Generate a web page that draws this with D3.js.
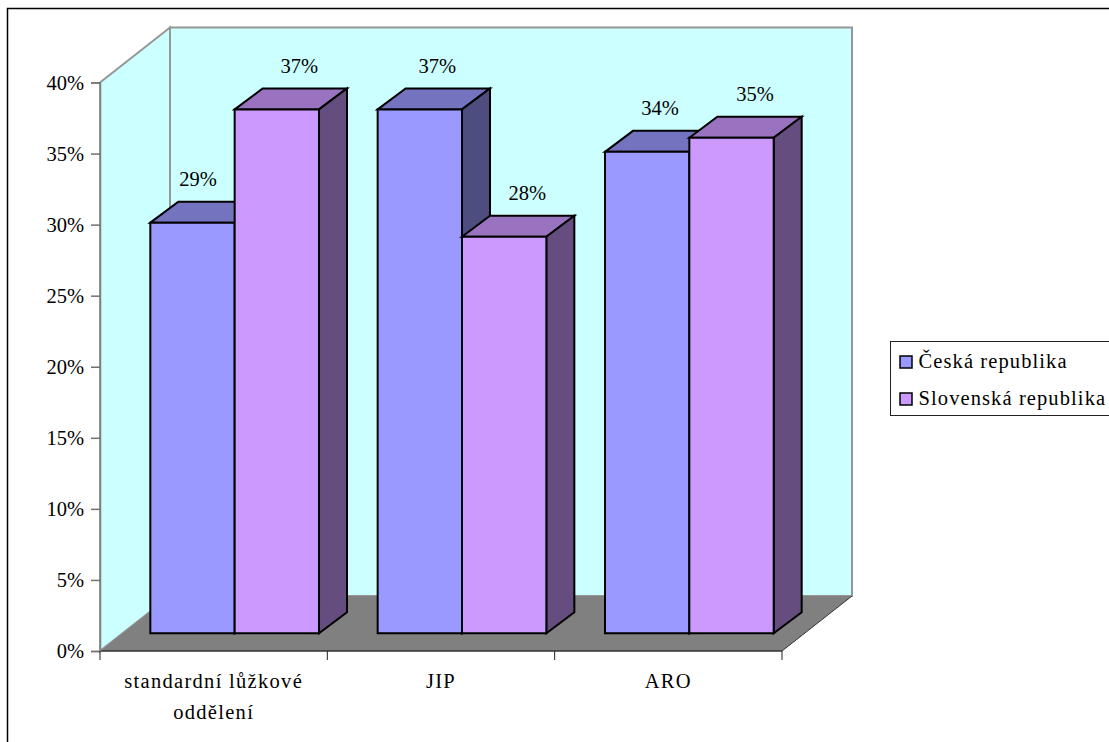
<!DOCTYPE html>
<html><head><meta charset="utf-8">
<script src="https://cdnjs.cloudflare.com/ajax/libs/d3/7.8.5/d3.min.js"></script>
<style>html,body{margin:0;padding:0;background:#fff;overflow:hidden}svg{display:block}text{font-family:"Liberation Serif",serif;fill:#000}</style>
</head><body><svg id="c" width="1109" height="742"></svg>
<script>
const categories=[["standardní lůžkové","oddělení"],["JIP"],["ARO"]];
const seriesNames=["Česká republika","Slovenská republika"];
const cz=[29,37,34];
const sk=[37,28,35];
const yTicks=[0,5,10,15,20,25,30,35,40];
const colors=[{front:"#9999FF",top:"#7373BF",side:"#4D4D80"},{front:"#CC99FF",top:"#9973BF",side:"#664D80"}];
const svg=d3.select("#c");
svg.append("rect").attr("x",7.5).attr("y",8.5).attr("width",1200).attr("height",760).attr("fill","#fff").attr("stroke","#000").attr("stroke-width",1.5);
const y=d3.scaleLinear().domain([0,40]).range([651,82.5]);
const x=d3.scaleBand().domain(d3.range(3)).range([100,782]);
const dx=70,dy=-55;
const line=d3.line();
const poly=(pts,fill,stroke,w)=>svg.append("path").attr("d",line(pts)+"Z").attr("fill",fill).attr("stroke",stroke||"none").attr("stroke-width",w||0).attr("stroke-linejoin","miter");
const y0=y(0),y40=y(40),xa=x.range()[0],xb=x.range()[1];
poly([[xa+dx,y40+dy],[xb+dx,y40+dy],[xb+dx,y0+dy],[xa+dx,y0+dy]],"#CCFFFF","#969696",2);
poly([[xa,y40],[xa+dx,y40+dy],[xa+dx,y0+dy],[xa,y0]],"#CCFFFF","#969696",2);
poly([[xa,y0],[xb,y0],[xb+dx,y0+dy],[xa+dx,y0+dy]],"#808080");
svg.append("line").attr("x1",xa).attr("x2",xb).attr("y1",y0).attr("y2",y0).attr("stroke","#333").attr("stroke-width",1.5);
svg.append("line").attr("x1",xb).attr("x2",xb+dx).attr("y1",y0).attr("y2",y0+dy).attr("stroke","#333").attr("stroke-width",1);
const yAxis=d3.axisLeft(y).tickValues(yTicks).tickSize(9).tickPadding(7).tickFormat(d=>d+"%");
const gy=svg.append("g").attr("transform",`translate(${xa},0)`).call(yAxis);
gy.select(".domain").attr("stroke","#808080").attr("stroke-width",1.5);
gy.selectAll(".tick line").attr("stroke","#707070").attr("stroke-width",1.5);
gy.selectAll("text").attr("font-size",20.5).attr("font-family","Liberation Serif").attr("fill","#000");
const xTickPos=[0,1,2,3].map(i=>xa+i*x.step());
svg.selectAll(".xt").data(xTickPos).join("line").attr("x1",d=>d).attr("x2",d=>d).attr("y1",y0).attr("y2",y0+9).attr("stroke","#222");
categories.forEach((lines,i)=>{
  const t=svg.append("text").attr("text-anchor","middle").attr("font-size",20.5);
  lines.forEach((l,j)=>t.append("tspan").attr("x",x(i)+x.bandwidth()/2).attr("y",687.5+j*31).attr("letter-spacing","1.3").text(l));
});
const barBase=633.3;
const barY=d3.scaleLinear().domain([0,40]).range([barBase,barBase-566.4]);
const bx=d3.scaleBand().domain(d3.range(3)).range([121,803]).paddingInner(0.258).paddingOuter(0.129);
const sx=d3.scaleBand().domain([0,1]).range([0,bx.bandwidth()]);
const bdx=28,bdy=-21;
// horizontal nudge of each value label, by series then category
const labelShift=[[5.5,17.5,13],[22.5,23,23.5]];
const bars=[];
[cz,sk].forEach((vals,s)=>vals.forEach((v,i)=>bars.push({s,i,v})));
bars.sort((a,b)=>a.i-b.i||a.s-b.s);
const labels=[];
bars.forEach(b=>{
  const x0=bx(b.i)+sx(b.s),x1=x0+sx.bandwidth(),yt=barY(b.v),c=colors[b.s];
  poly([[x0,yt],[x0+bdx,yt+bdy],[x1+bdx,yt+bdy],[x1,yt]],c.top,"#000",2);
  poly([[x1,yt],[x1+bdx,yt+bdy],[x1+bdx,barBase+bdy],[x1,barBase]],c.side,"#000",2);
  poly([[x0,yt],[x1,yt],[x1,barBase],[x0,barBase]],c.front,"#000",2);
  labels.push({t:b.v+"%",x:(x0+x1)/2+labelShift[b.s][b.i],y:yt-36.5});
});
svg.selectAll(".dl").data(labels).join("text").attr("text-anchor","middle").attr("font-size",20.5).attr("x",d=>d.x).attr("y",d=>d.y).text(d=>d.t);
svg.append("rect").attr("x",890.5).attr("y",341.5).attr("width",240).attr("height",74).attr("fill","#fff").attr("stroke","#222");
seriesNames.forEach((n,i)=>{
  const ly=362+i*37;
  svg.append("rect").attr("x",900).attr("y",ly-6).attr("width",12).attr("height",12).attr("fill",colors[i].front).attr("stroke","#000").attr("stroke-width",1.5);
  svg.append("text").attr("x",918.5).attr("y",ly+6).attr("font-size",20.5).attr("letter-spacing","1.1").text(n);
});
</script></body></html>
